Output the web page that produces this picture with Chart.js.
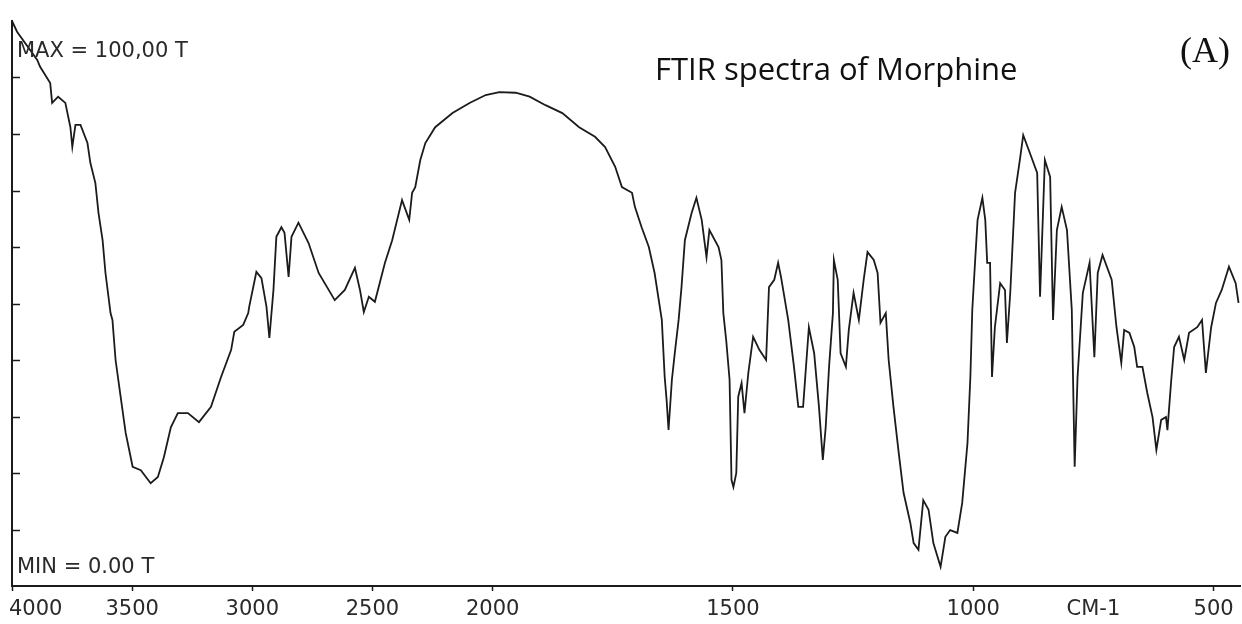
<!DOCTYPE html>
<html>
<head>
<meta charset="utf-8">
<title>FTIR spectra of Morphine</title>
<script src="https://cdn.jsdelivr.net/npm/chart.js@4.4.1/dist/chart.umd.min.js"></script>
<style>
    html, body { margin: 0; padding: 0; background: #fff; }
    #wrap { position: relative; width: 1242px; height: 624px; }
</style>
</head>
<body>
<div id="wrap"><canvas id="ftir"></canvas></div>
<script>
// Spectrum: wavenumber (cm-1) and transmittance (%T)
const WAVENUMBER = [
    4000, 3979, 3895, 3883, 3841, 3833, 3808, 3778, 3757, 3749, 3736, 3715, 3686, 3674,
    3653, 3640, 3623, 3611, 3590, 3582, 3569, 3548, 3527, 3498, 3464, 3423, 3393, 3368,
    3339, 3310, 3268, 3222, 3172, 3130, 3088, 3075, 3038, 3017, 3013, 2983, 2962, 2941,
    2929, 2912, 2900, 2879, 2866, 2849, 2837, 2808, 2766, 2724, 2657, 2615, 2573, 2552,
    2536, 2515, 2490, 2448, 2418, 2377, 2347, 2335, 2322, 2301, 2280, 2239, 2167, 2096,
    2029, 1986, 1952, 1923, 1890, 1855, 1820, 1787, 1766, 1745, 1731, 1710, 1704, 1690,
    1675, 1663, 1648, 1642, 1638, 1634, 1627, 1621, 1613, 1607, 1600, 1586, 1576, 1565,
    1555, 1549, 1530, 1524, 1520, 1514, 1507, 1503, 1499, 1493, 1489, 1482, 1476, 1468,
    1458, 1445, 1431, 1425, 1414, 1406, 1400, 1385, 1373, 1364, 1354, 1348, 1342, 1331,
    1321, 1313, 1307, 1300, 1292, 1290, 1282, 1276, 1265, 1259, 1249, 1238, 1228, 1220,
    1207, 1199, 1193, 1182, 1176, 1166, 1155, 1145, 1131, 1124, 1114, 1104, 1093, 1083,
    1068, 1058, 1048, 1033, 1023, 1012, 1006, 1002, 996, 991, 981, 975, 971, 965,
    961, 955, 944, 934, 930, 923, 913, 903, 896, 882, 867, 861, 851, 840,
    834, 826, 816, 805, 795, 789, 783, 772, 758, 748, 741, 731, 712, 702,
    692, 686, 675, 665, 659, 648, 638, 627, 619, 609, 599, 596, 588, 582,
    572, 561, 551, 534, 524, 516, 505, 495, 483, 468, 454, 448,
];
const TRANSMITTANCE = [
    100.0, 98.1, 93.1, 91.9, 89.0, 85.5, 86.6, 85.5, 81.2, 77.7, 81.6, 81.6, 78.4, 74.9,
    71.3, 66.0, 61.2, 55.4, 48.3, 47.1, 40.0, 33.5, 27.1, 21.1, 20.5, 18.2, 19.3, 22.8,
    28.1, 30.6, 30.6, 29.0, 31.7, 37.0, 41.8, 45.0, 46.2, 48.3, 49.4, 55.6, 54.5, 49.4,
    43.9, 52.4, 61.8, 63.5, 62.5, 54.7, 61.8, 64.3, 60.7, 55.4, 50.6, 52.4, 56.3, 52.4,
    48.5, 51.2, 50.3, 57.2, 61.2, 68.3, 64.8, 69.6, 70.6, 75.4, 78.4, 81.2, 83.7, 85.5,
    86.9, 87.4, 87.3, 86.6, 85.1, 83.7, 81.2, 79.5, 77.7, 74.2, 70.6, 69.6, 67.1, 63.5,
    60.0, 55.4, 47.1, 37.0, 32.9, 27.6, 36.5, 41.2, 47.1, 52.9, 61.2, 66.0, 68.7, 64.8,
    58.2, 63.0, 60.0, 57.7, 48.3, 43.5, 36.5, 18.8, 17.5, 20.0, 33.5, 35.9, 30.6, 37.7,
    44.1, 41.8, 40.0, 52.9, 54.2, 57.2, 54.7, 47.1, 38.8, 31.7, 31.7, 38.8, 45.8, 41.2,
    31.7, 22.3, 28.1, 38.8, 48.3, 57.7, 54.2, 41.2, 38.8, 45.3, 51.9, 47.1, 54.2, 59.1,
    57.7, 55.4, 46.6, 48.3, 40.0, 31.7, 23.5, 16.5, 11.2, 7.6, 6.4, 15.2, 13.5, 7.6,
    3.4, 8.7, 9.9, 9.4, 14.7, 25.3, 37.0, 48.9, 57.7, 64.8, 68.7, 64.8, 57.2, 57.2,
    37.0, 45.8, 53.6, 52.4, 43.0, 51.9, 69.6, 75.4, 79.8, 76.6, 73.1, 51.2, 75.4, 72.4,
    47.1, 63.0, 67.1, 63.0, 48.9, 21.1, 37.0, 51.9, 57.2, 40.5, 55.4, 58.6, 54.2, 45.8,
    39.5, 45.3, 44.8, 42.3, 38.8, 38.8, 34.2, 29.9, 24.1, 29.4, 29.9, 27.6, 36.5, 42.3,
    44.1, 40.0, 44.8, 45.8, 47.1, 37.7, 45.8, 50.1, 52.4, 56.5, 53.6, 50.1,
];

// x axis: ticks every 500 cm-1, plus the unit label sitting between 1000 and 500
const TICK_WAVENUMBERS = [4000, 3500, 3000, 2500, 2000, 1500, 1000, 750, 500];
const TICK_LABELS = ['4000', '3500', '3000', '2500', '2000', '1500', '1000', 'CM-1', '500'];
const UNIT_TICK = 750;

const WN_MAX = 4000;
const WN_MIN = 445;
const WN_BREAK = 2000;   // scale doubles below this
const Y_STEP = 10;

const MAX_LABEL = 'MAX = 100,00 T';
const MIN_LABEL = 'MIN = 0.00 T';
const TITLE = 'FTIR spectra of Morphine';
const PANEL = '(A)';

// position along the axis, 1 unit per cm-1 above the break, 2 below
function wnToPos(wn) {
    if (wn >= WN_BREAK) return WN_MAX - wn;
    return (WN_MAX - WN_BREAK) + (WN_BREAK - wn) * 2;
}

class WavenumberScale extends Chart.LinearScale {
    buildTicks() {
        return TICK_WAVENUMBERS.map(v => ({ value: v }));
    }
    fit() {
        super.fit();
        // labels may hang past the plot edge, like on the instrument printout
        this.paddingLeft = 0;
        this.paddingRight = 0;
    }
    _computeLabelItems(chartArea) {
        const items = super._computeLabelItems(chartArea);
        // first label starts at the axis instead of centring on it
        const first = items[0];
        if (first && first.options && first.options.translation) {
            first.options.textAlign = 'left';
            first.options.translation[0] = this.left - 3;
        }
        return items;
    }
    getPixelForValue(value) {
        const span = wnToPos(WN_MIN);
        return this.left + (wnToPos(value) / span) * this.width;
    }
    getValueForPixel(pixel) {
        const pos = (pixel - this.left) / this.width * wnToPos(WN_MIN);
        const breakPos = WN_MAX - WN_BREAK;
        if (pos <= breakPos) return WN_MAX - pos;
        return WN_BREAK - (pos - breakPos) / 2;
    }
}
WavenumberScale.id = 'wavenumber';
WavenumberScale.defaults = Chart.LinearScale.defaults;
Chart.register(WavenumberScale);

const INK = '#1b1b1b';

const decorations = {
    id: 'decorations',
    afterDraw(chart) {
        const { ctx, chartArea } = chart;
        const yScale = chart.scales.y;
        ctx.save();

        // inward ticks on the left axis
        ctx.strokeStyle = INK;
        ctx.lineWidth = 1.5;
        for (const t of yScale.ticks) {
            if (t.value <= 0 || t.value >= 100) continue;
            const y = Math.round(yScale.getPixelForValue(t.value)) + 0.5;
            ctx.beginPath();
            ctx.moveTo(chartArea.left, y);
            ctx.lineTo(chartArea.left + 8, y);
            ctx.stroke();
        }

        ctx.fillStyle = '#2a2a2a';
        ctx.textAlign = 'left';
        ctx.textBaseline = 'alphabetic';
        ctx.font = '21px "DejaVu Sans"';
        ctx.fillText(MAX_LABEL, chartArea.left + 5, 57);
        ctx.fillText(MIN_LABEL, chartArea.left + 5, 573);

        ctx.fillStyle = '#111';
        ctx.font = '31px "Open Sans"';
        ctx.fillText(TITLE, 655, 80);

        ctx.font = '36px "Liberation Serif"';
        ctx.fillText(PANEL, 1180, 62);
        ctx.restore();
    },
};

new Chart(document.getElementById('ftir'), {
    type: 'line',
    data: {
        datasets: [{
            data: WAVENUMBER.map((w, i) => ({ x: w, y: TRANSMITTANCE[i] })),
            borderColor: INK,
            borderWidth: 1.8,
            pointRadius: 0,
            tension: 0,
            fill: false,
            clip: false,
        }],
    },
    options: {
        responsive: true,
        maintainAspectRatio: false,
        animation: false,
        events: [],
        parsing: false,
        layout: { padding: { left: 12, right: 2, top: 21, bottom: 0 } },
        scales: {
            x: {
                type: 'wavenumber',
                min: WN_MIN,
                max: WN_MAX,
                afterFit(scale) {
                    scale.height = 38;
                },
                border: { display: true, color: INK, width: 2 },
                grid: {
                    display: true,
                    drawOnChartArea: false,
                    drawTicks: true,
                    tickLength: 5,
                    tickWidth: 1.5,
                    tickColor: (c) => (c.tick && c.tick.value === UNIT_TICK ? 'rgba(0,0,0,0)' : INK),
                },
                ticks: {
                    autoSkip: false,
                    maxRotation: 0,
                    padding: 8,
                    color: '#2a2a2a',
                    font: { family: '"DejaVu Sans"', size: 21, lineHeight: 1 },
                    callback(value) {
                        const i = TICK_WAVENUMBERS.indexOf(value);
                        return i >= 0 ? TICK_LABELS[i] : '';
                    },
                },
            },
            y: {
                min: 0,
                max: 100,
                border: { display: true, color: INK, width: 2 },
                grid: { display: false, drawTicks: false },
                ticks: { display: false, stepSize: Y_STEP },
            },
        },
        plugins: {
            legend: { display: false },
            tooltip: { enabled: false },
            title: { display: false },
        },
    },
    plugins: [decorations],
});
</script>
</body>
</html>
